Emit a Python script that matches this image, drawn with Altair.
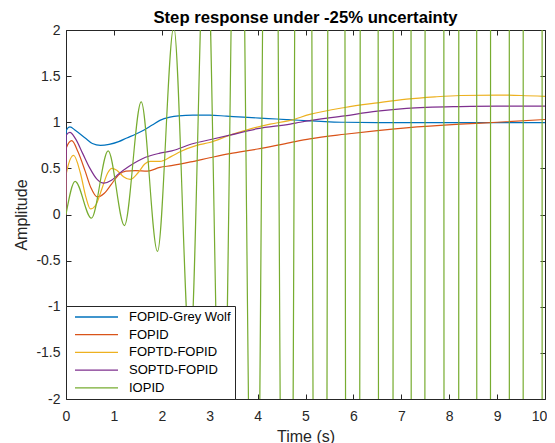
import altair as alt
import pandas as pd

# ---- data ----
names = ["FOPID-Grey Wolf", "FOPID", "FOPTD-FOPID", "SOPTD-FOPID", "IOPID"]
colors = ["#0072BD", "#D95319", "#EDB120", "#7E2F8E", "#77AC30"]

gw_t = [0, 0.005, 0.08, 0.2, 0.4, 0.55, 0.72, 0.9, 1.1, 1.27, 1.45, 1.61, 1.8, 1.96, 2.17, 2.35,
        2.65, 3.0, 3.35, 3.7, 4.05, 4.4, 4.75, 5.09, 5.5, 5.82, 6.5, 7.5, 8.5, 10]
gw_v = [0, 0.91, 0.95, 0.91, 0.83, 0.77, 0.75, 0.76, 0.79, 0.83, 0.87, 0.91, 0.97, 1.02, 1.055, 1.07,
        1.078, 1.077, 1.066, 1.055, 1.045, 1.035, 1.025, 1.015, 1.005, 1.0, 0.997, 0.995, 0.995, 0.995]

fo_t = [0, 0.005, 0.12, 0.25, 0.4, 0.52, 0.65, 0.8, 0.95, 1.1, 1.25, 1.45, 1.7, 1.96, 2.2, 2.6,
        3.0, 3.42, 4.0, 4.68, 5.09, 5.82, 6.5, 7.1, 8.23, 9.0, 10]
fo_v = [0, 0.72, 0.80, 0.68, 0.47, 0.29, 0.19, 0.23, 0.33, 0.43, 0.47, 0.475, 0.47, 0.51, 0.53, 0.57,
        0.615, 0.66, 0.71, 0.78, 0.82, 0.87, 0.91, 0.94, 0.98, 1.0, 1.03]

ft_t = [0, 0.005, 0.16, 0.3, 0.42, 0.51, 0.62, 0.75, 0.87, 0.96, 1.06, 1.2, 1.34, 1.5, 1.65, 1.76,
        1.96, 2.2, 2.38, 2.73, 3.0, 3.42, 3.8, 4.26, 4.68, 5.09, 5.82, 6.5, 7.11, 7.7, 8.23, 9.0, 9.5, 10]
ft_v = [0, 0.44, 0.64, 0.45, 0.18, 0.06, 0.10, 0.28, 0.45, 0.50, 0.48, 0.41, 0.38, 0.45, 0.55, 0.575,
        0.575, 0.63, 0.68, 0.75, 0.78, 0.86, 0.92, 0.98, 1.02, 1.085, 1.16, 1.21, 1.25, 1.275, 1.29, 1.295, 1.29, 1.28]

so_t = [0, 0.005, 0.08, 0.2, 0.35, 0.5, 0.65, 0.79, 0.95, 1.1, 1.31, 1.5, 1.66, 1.96, 2.21, 2.66,
        3.0, 3.42, 4.0, 4.68, 4.89, 5.82, 6.5, 7.11, 8.23, 9.0, 10]
so_v = [0, 0.86, 0.89, 0.82, 0.66, 0.50, 0.38, 0.34, 0.37, 0.44, 0.52, 0.58, 0.62, 0.665, 0.69, 0.77,
        0.81, 0.86, 0.93, 0.98, 1.0, 1.07, 1.12, 1.15, 1.17, 1.175, 1.175]

# IOPID: start, then successive peaks / troughs (growing, leaving the frame)
io_t = [0, 0.19, 0.53, 0.88, 1.22, 1.57, 1.91, 2.25, 2.59, 2.92, 3.26, 3.60, 3.94, 4.28, 4.62,
        4.965, 5.325, 5.66, 6.0, 6.345, 6.695, 7.035, 7.375, 7.715, 8.065, 8.405, 8.745, 9.085,
        9.425, 9.77, 10.11]
io_v = [0, 0.36, -0.04, 0.69, -0.12, 1.22, -0.40, 2.03, -1.5, 3.4, -3.3, 6.0, -6.0, 11, -11,
        20, -20, 38, -38, 70, -70, 130, -130, 240, -240, 450, -450, 850, -850, 1600, -1600]

x_ticks = [0, 1, 2, 3, 4, 5, 6, 7, 8, 9, 10]
y_ticks = [-2, -1.5, -1, -0.5, 0, 0.5, 1, 1.5, 2]

series = [(names[0], gw_t, gw_v), (names[1], fo_t, fo_v), (names[2], ft_t, ft_v),
          (names[3], so_t, so_v), (names[4], io_t, io_v)]
rows = []
for name, ts, vs in series:
    for i, (t, v) in enumerate(zip(ts, vs)):
        rows.append({"series": name, "t": t, "v": v, "i": i})
df = pd.DataFrame(rows)

W, H = 479, 369
FONT = "Liberation Sans"
AX = "#262626"

xs = alt.Scale(domain=[0, 10], nice=False, zero=False)
ys = alt.Scale(domain=[-2, 2], nice=False, zero=False)

lines = alt.Chart(df).mark_line(interpolate="monotone", clip=True, strokeWidth=1.2).encode(
    x=alt.X("t:Q", scale=xs, axis=alt.Axis(orient="bottom", values=x_ticks, format="d", ticks=False,
                                           domain=False, grid=False, labelPadding=10, labelFlush=False,
                                           labelOffset={"condition": {"test": "datum.value == 10", "value": -6},
                                                        "value": 0},
                                           title="Time (s)", titlePadding=5)),
    y=alt.Y("v:Q", scale=ys, axis=alt.Axis(orient="left", values=y_ticks, ticks=False, domain=False,
                                           grid=False, labelPadding=6, labelFlush=False, title="Amplitude",
                                           labelExpr="'' + datum.value", titlePadding=6)),
    color=alt.Color("series:N", scale=alt.Scale(domain=names, range=colors),
                    legend=alt.Legend(title=None, orient="bottom-left", offset=0, fillColor="white",
                                      strokeColor=AX, padding=4, symbolType="stroke", symbolSize=1849,
                                      symbolStrokeWidth=1.3, symbolOffset=4, labelFontSize=13,
                                      labelFont=FONT, labelColor="black", rowPadding=3.7, labelOffset=10,
                                      labelLimit=300, clipHeight=14, cornerRadius=0)),
    order="i:Q",
    detail="series:N",
)

base = alt.Chart(df[df["series"] == names[0]])

ticks_bl = base.mark_line(strokeOpacity=0, clip=True).encode(
    x=alt.X("t:Q", scale=xs, axis=alt.Axis(orient="top", offset=-H, values=x_ticks, labels=False,
                                           domain=False, grid=False, ticks=True, tickSize=5,
                                           tickColor=AX, title=None)),
    y=alt.Y("v:Q", scale=ys, axis=alt.Axis(orient="right", offset=-W, values=y_ticks, labels=False,
                                           domain=False, grid=False, ticks=True, tickSize=5,
                                           tickColor=AX, title=None)),
)

ticks_tr = base.mark_line(strokeOpacity=0, clip=True).encode(
    x=alt.X("t:Q", scale=xs, axis=alt.Axis(orient="bottom", offset=-H, values=x_ticks, labels=False,
                                           domain=False, grid=False, ticks=True, tickSize=5,
                                           tickColor=AX, title=None)),
    y=alt.Y("v:Q", scale=ys, axis=alt.Axis(orient="left", offset=-W, values=y_ticks, labels=False,
                                           domain=False, grid=False, ticks=True, tickSize=5,
                                           tickColor=AX, title=None)),
)

chart = alt.layer(ticks_bl, ticks_tr, lines).resolve_axis(x="independent", y="independent").properties(
    width=W, height=H,
    title=alt.TitleParams("Step response under -25% uncertainty", fontSize=16.7, fontWeight="bold",
                          font=FONT, color="black", offset=-3.5, anchor="middle", frame="group"),
    autosize=alt.AutoSizeParams(type="none"),
    padding={"left": 58, "top": 22, "right": 2, "bottom": 44},
    background="white",
).configure_view(stroke=AX, strokeWidth=1).configure_axis(
    labelFont=FONT, labelFontSize=14, labelColor=AX, titleFont=FONT, titleFontSize=16,
    titleFontWeight="normal", titleColor=AX,
)

chart.save("out.html", embed_options={"renderer": "svg", "actions": False})
